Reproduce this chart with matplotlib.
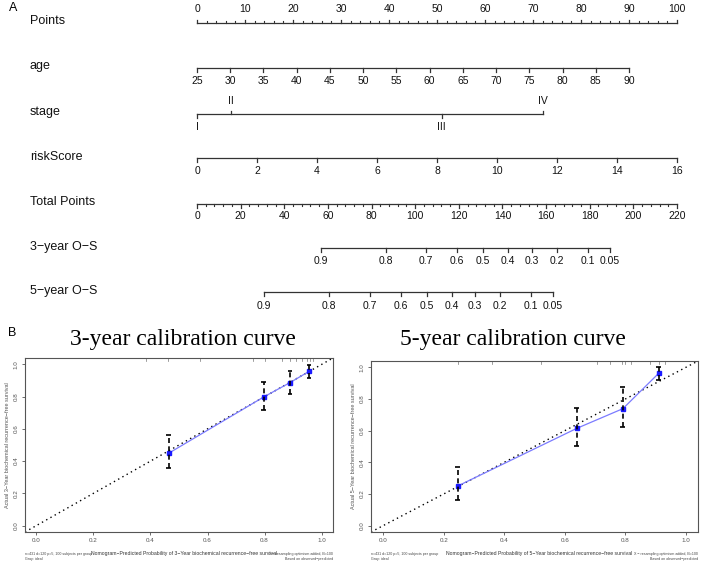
import numpy as np
import matplotlib
matplotlib.use("Agg")
import matplotlib.pyplot as plt

plt.rcParams['font.family'] = ['Liberation Sans', 'DejaVu Sans']

############################################
# DATA
############################################

# nomogram scales
points_ticks = list(range(0, 101, 10))
age_ticks = list(range(25, 91, 5))
age_max_points = 90.0
stage_labels = ["I", "II", "III", "IV"]
stage_points = [0.0, 7.1, 51.0, 72.0]
stage_above = [False, True, False, True]
risk_ticks = list(range(0, 17, 2))
total_ticks = list(range(0, 221, 20))

os3_labels = ["0.9", "0.8", "0.7", "0.6", "0.5", "0.4", "0.3", "0.2", "0.1", "0.05"]
os3_total = [56.8, 86.6, 105.0, 119.2, 131.1, 142.5, 153.5, 165.0, 179.2, 189.3]
os5_labels = ["0.9", "0.8", "0.7", "0.6", "0.5", "0.4", "0.3", "0.2", "0.1", "0.05"]
os5_total = [30.7, 60.5, 79.3, 93.5, 105.4, 116.9, 127.4, 138.9, 153.1, 163.2]

# calibration curves
cal3_pred = [0.464, 0.797, 0.889, 0.956]
cal3_obs = [0.449, 0.798, 0.887, 0.957]
cal3_lo = [0.356, 0.716, 0.819, 0.918]
cal3_hi = [0.560, 0.891, 0.959, 0.998]
cal3_rug = [0.386, 0.46, 0.574, 0.76, 0.80, 0.86, 0.89, 0.91, 0.93, 0.95, 0.96, 0.97]

cal5_pred = [0.246, 0.639, 0.792, 0.910]
cal5_obs = [0.250, 0.614, 0.739, 0.962]
cal5_lo = [0.161, 0.505, 0.624, 0.917]
cal5_hi = [0.369, 0.745, 0.877, 1.000]
cal5_rug = [0.246, 0.36, 0.52, 0.705, 0.75, 0.79, 0.80, 0.82, 0.88, 0.91, 0.93]

W, H = 702, 565
LINE = "#333333"


def age_pts(a):
    return (a - 25) / 65.0 * age_max_points


def risk_pts(r):
    return r / 16.0 * 100.0


def total_pts(t):
    return t / 220.0 * 100.0


############################################
# FIGURE
############################################

fig = plt.figure(figsize=(W / 100, H / 100), dpi=100)

# nomogram axes: x in points (0..100 -> px 197..677), y in pixel rows
nx0, nx1 = 197, 677
ax = fig.add_axes([nx0 / W, (H - 320) / H, (nx1 - nx0) / W, 320 / H])
ax.set_xlim(0, 100)
ax.set_ylim(320, 0)
ax.axis("off")

label_x = (30 - nx0) / ((nx1 - nx0) / 100.0)
LAB_FS = 9
TICK_FS = 7.5


def scale_row(y, pos, labels, above=None, minor=None, tick_len=3.5, lab_off=12):
    ax.plot([min(pos), max(pos)], [y, y], color=LINE, lw=0.9, clip_on=False)
    for i, (p, l) in enumerate(zip(pos, labels)):
        up = above[i] if above is not None else False
        d = -tick_len if up else tick_len
        ax.plot([p, p], [y, y + d], color=LINE, lw=0.9, clip_on=False)
        ty = y - lab_off if up else y + lab_off
        ax.text(p, ty, l, ha="center", va="center", fontsize=TICK_FS, color="#111111")
    if minor is not None:
        for p in minor:
            up = above[0] if above is not None else False
            d = -2.2 if up else 2.2
            ax.plot([p, p], [y, y + d], color=LINE, lw=0.8, clip_on=False)


def row_label(y, txt):
    ax.text(label_x, y, txt, ha="left", va="center", fontsize=LAB_FS, color="#111111")


# Points
row_label(21, "Points")
scale_row(23, points_ticks, [str(v) for v in points_ticks],
          above=[True] * len(points_ticks),
          minor=[v for v in range(0, 101, 2) if v % 10], lab_off=14)

# age
row_label(66, "age")
scale_row(68, [age_pts(a) for a in age_ticks], [str(a) for a in age_ticks], lab_off=13)

# stage
row_label(112, "stage")
scale_row(114, stage_points, stage_labels, above=stage_above, lab_off=13)

# riskScore
row_label(157, "riskScore")
scale_row(158, [risk_pts(r) for r in risk_ticks], [str(r) for r in risk_ticks], lab_off=13)

# Total Points
row_label(202, "Total Points")
scale_row(204, [total_pts(t) for t in total_ticks], [str(t) for t in total_ticks],
          minor=[total_pts(t) for t in range(0, 221, 4) if t % 20], lab_off=12)

# 3-year / 5-year
row_label(247, "3\u2212year O\u2212S")
scale_row(248, [total_pts(t) for t in os3_total], os3_labels, lab_off=13)
row_label(291, "5\u2212year O\u2212S")
scale_row(292, [total_pts(t) for t in os5_total], os5_labels, lab_off=14)

fig.text(9 / W, 1 - 8 / H, "A", fontsize=9, ha="left", va="center")
fig.text(8 / W, 1 - 333 / H, "B", fontsize=9, ha="left", va="center")

############################################
# CALIBRATION
############################################


def fig_text(x, y, s, **kw):
    return fig.text(x / W, 1 - y / H, s, **kw)


def calib(rect, pred, obs, lo, hi, rug, yr, title, title_xy):
    l, t, r, b = rect
    cax = fig.add_axes([l / W, (H - b) / H, (r - l) / W, (b - t) / H])
    cax.set_xlim(-0.04, 1.04)
    cax.set_ylim(-0.04, 1.04)
    for s in cax.spines.values():
        s.set_color("#555555")
        s.set_linewidth(0.8)
    ticks = np.arange(0, 1.01, 0.2)
    cax.set_xticks(ticks)
    cax.set_yticks(ticks)
    cax.set_xticklabels([f"{v:.1f}" for v in ticks])
    cax.set_yticklabels([f"{v:.1f}" for v in ticks], rotation=90, va="center")
    cax.tick_params(labelsize=4.5, length=2.5, width=0.6, colors="#555555", pad=2)

    # ideal line
    cax.plot([-0.04, 1.04], [-0.04, 1.04], color="black", lw=1.0, ls=(0, (1, 2.5)))
    # apparent / bias-corrected curve
    cax.plot(pred, obs, color="#7b7bff", lw=0.9)
    cax.plot(pred, obs, ls="none", marker="s", ms=2.5, color="#1a1aff")
    # error bars
    cax.vlines(pred, lo, hi, colors="black", linestyles=(0, (3, 2)), lw=1.2)
    cw = 0.008
    cax.hlines(lo, np.array(pred) - cw, np.array(pred) + cw, colors="black", lw=1.2)
    cax.hlines(hi, np.array(pred) - cw, np.array(pred) + cw, colors="black", lw=1.2)
    # rug of predictions along the top
    for x in rug:
        cax.plot([x, x], [1.04, 1.02], color="#777777", lw=0.5)

    cax.set_ylabel(f"Actual {yr}\u2212Year biochemical recurrence\u2212free survival",
                   fontsize=4, labelpad=3, color="#555555")
    cx = (l + r) / 2 + 5
    fig_text(cx, 553, f"Nomogram\u2212Predicted Probability of {yr}\u2212Year biochemical recurrence\u2212free survival",
             fontsize=3.7, color="#333333", ha="center", va="center")
    fig_text(l, 552, "n=431 d=120 p=5, 100 subjects per group\nGray: ideal",
             fontsize=2.6, color="#444444", va="top", ha="left", linespacing=1.3)
    fig_text(r, 552, "X \u2212 resampling optimism added, B=100\nBased on observed\u2212predicted",
             fontsize=2.6, color="#444444", va="top", ha="right",
             multialignment="right", linespacing=1.3)
    fig_text(title_xy[0], title_xy[1], title, fontsize=17,
             family="Liberation Serif", ha="center", va="center")
    return cax


calib((25, 358, 333, 532), cal3_pred, cal3_obs, cal3_lo, cal3_hi, cal3_rug, 3,
      "3-year calibration curve", (183, 340))
calib((371, 361, 698, 532), cal5_pred, cal5_obs, cal5_lo, cal5_hi, cal5_rug, 5,
      "5-year calibration curve", (513, 340))

fig.savefig("out.png", dpi=100)
